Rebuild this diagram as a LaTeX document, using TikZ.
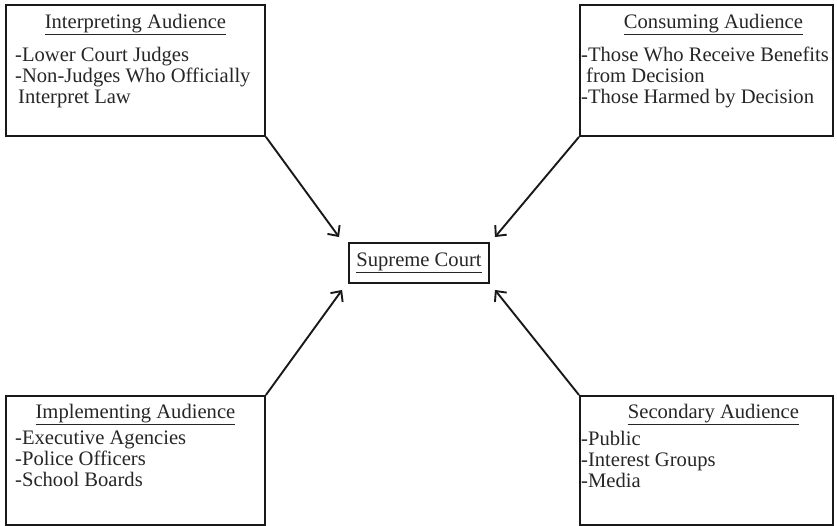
\documentclass[tikz,border=0pt]{standalone}
\usepackage{fontspec}
\setmainfont{Liberation Serif}
\usetikzlibrary{arrows.meta,positioning}

\tikzset{
  audbox/.style={draw=black!90, line width=1.9pt, anchor=north west,
    minimum width=#1, minimum height=131, inner sep=0pt},
  courtbox/.style={draw=black!90, line width=1.9pt, minimum width=140,
    minimum height=40, inner sep=0pt},
  headtxt/.style={anchor=base, inner sep=0pt, text=black!85},
  itemtxt/.style={anchor=north west, align=left, inner sep=0pt, text=black!85},
  arr/.style={draw=black!90, line width=1.9pt, -{Straight Barb[length=8pt,width=15pt]}}
}

\begin{document}
\begin{tikzpicture}[x=1pt, y=-1pt, font=\fontsize{20.6}{21}\selectfont]
  \useasboundingbox (0,0) rectangle (837,525);

  % the four audiences
  \node[audbox=259] (interp) at (5,4) {};
  \node[audbox=253] (consum) at (579,4) {};
  \node[audbox=259, minimum height=129] (implem) at (5,395) {};
  \node[audbox=253, minimum height=129] (second) at (579,395) {};

  % the court in the middle
  \node[courtbox, text=black!85] (court) at (419,263) {\underline{Supreme Court}};

  % headings
  \node[headtxt] (interp-head) at ([yshift=-24]interp.north) {\underline{Interpreting Audience}};
  \node[headtxt] (consum-head) at ([xshift=7,yshift=-24]consum.north) {\underline{Consuming Audience}};
  \node[headtxt] (implem-head) at ([yshift=-23]implem.north) {\underline{Implementing Audience}};
  \node[headtxt] (second-head) at ([xshift=7,yshift=-23]second.north) {\underline{Secondary Audience}};

  % lists
  \node[itemtxt] (interp-list) at ([xshift=10,yshift=-43]interp.north west)
    {-Lower Court Judges\\-Non-Judges Who Officially\\\hspace*{3pt}Interpret Law};
  \node[itemtxt] (consum-list) at ([xshift=2,yshift=-43]consum.north west)
    {-Those Who Receive Benefits\\\hspace*{5pt}from Decision\\-Those Harmed by Decision};
  \node[itemtxt] (implem-list) at ([xshift=10,yshift=-36]implem.north west)
    {-Executive Agencies\\-Police Officers\\-School Boards};
  \node[itemtxt] (second-list) at ([xshift=2,yshift=-36]second.north west)
    {-Public\\-Interest Groups\\-Media};

  % arrows into the court
  \draw[arr] (interp.south east) -- ([shift={(-9,-5)}]court.north west);
  \draw[arr] (consum.south west) -- ([shift={(5,-5)}]court.north east);
  \draw[arr] (implem.north east) -- ([shift={(-6,6)}]court.south west);
  \draw[arr] (second.north west) -- ([shift={(5,6)}]court.south east);
\end{tikzpicture}
\end{document}
